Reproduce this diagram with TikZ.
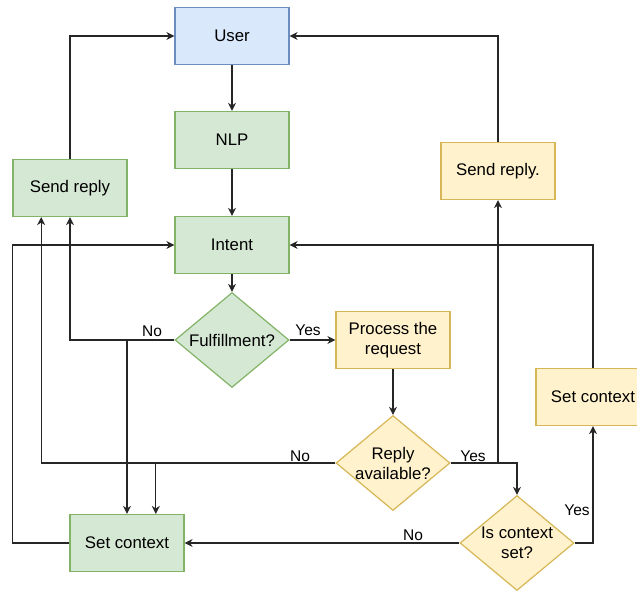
\documentclass[tikz,border=0pt]{standalone}
\usepackage{fontspec}
\setmainfont{Liberation Sans}
\usetikzlibrary{shapes.geometric,arrows.meta,calc}
\definecolor{gfill}{HTML}{D5E8D4}
\definecolor{gline}{HTML}{82B366}
\definecolor{bfill}{HTML}{DAE8FC}
\definecolor{bline}{HTML}{6C8EBF}
\definecolor{yfill}{HTML}{FFF2CC}
\definecolor{yline}{HTML}{D6B656}
\tikzset{
  box/.style={rectangle, minimum width=114pt, minimum height=57pt, inner sep=0pt, line width=1.2pt, align=center, font=\fontsize{16.8}{20}\selectfont},
  gbox/.style={box, fill=gfill, draw=gline},
  bbox/.style={box, fill=bfill, draw=bline},
  ybox/.style={box, fill=yfill, draw=yline},
  dia/.style={diamond, minimum width=114pt, minimum height=95pt, inner sep=-30pt, line width=1.2pt, align=center, font=\fontsize{16.8}{20}\selectfont},
  gdia/.style={dia, fill=gfill, draw=gline},
  ydia/.style={dia, fill=yfill, draw=yline},
  arr/.style={line width=1.2pt, draw=black!85, -{Stealth[length=8pt,width=8pt,inset=2.5pt]}},
  ln/.style={line width=1.2pt, draw=black!85},
  lbl/.style={fill=white, inner sep=1pt, font=\fontsize{15.5}{18}\selectfont}
}
\begin{document}
\begin{tikzpicture}[x=1pt,y=-1pt]
\useasboundingbox (0,0) rectangle (637,595);
\node[bbox] (user) at (232,36) {User};
\node[gbox] (nlp) at (232,140) {NLP};
\node[gbox] (intent) at (232,245) {Intent};
\node[gdia] (fulf) at (232,340) {Fulfillment?};
\node[gbox] (sendL) at (70,188) {Send reply};
\node[ybox] (proc) at (393,340) {Process the\\request};
\node[ydia] (reply) at (393,463) {Reply\\available?};
\node[ydia] (ctx) at (517,543) {Is context\\set?};
\node[ybox] (setY) at (593,397) {Set context};
\node[ybox] (sendY) at (498,171) {Send reply.};
\node[gbox] (setG) at (127,543) {Set context};

\draw[arr] (user) -- (nlp);
\draw[arr] (nlp) -- (intent);
\draw[arr] (intent) -- (fulf);
\draw[arr] (fulf.east) -- (proc.west);
\draw[arr] (proc) -- (reply);
\draw[arr] (fulf.west) -| (sendL.south);
\draw[arr] (fulf.west) -| (setG.north);
\draw[arr] (sendL.north) |- (user.west);
\draw[arr] (reply.west) -| ($(sendL.south west)!0.25!(sendL.south east)$);
\draw[arr] (reply.west) -| ($(setG.north west)!0.75!(setG.north east)$);
\draw[arr] (setG.west) -- (setG.west -| sendL.west) |- (intent.west);
\draw[arr] (reply.east) -| (sendY.south);
\draw[arr] (reply.east) -| (ctx.north);
\draw[arr] (ctx.west) -- (setG.east);
\draw[arr] (ctx.east) -| (setY.south);
\draw[arr] (setY.north) |- (intent.east);
\draw[arr] (sendY.north) |- (user.east);

\node[lbl] (l1) at (152,331) {No};
\node[lbl] (l2) at (308,330) {Yes};
\node[lbl] (l3) at (300,456) {No};
\node[lbl] (l4) at (473,456) {Yes};
\node[lbl] (l5) at (413,535) {No};
\node[lbl] (l6) at (577,510) {Yes};
\end{tikzpicture}
\end{document}
